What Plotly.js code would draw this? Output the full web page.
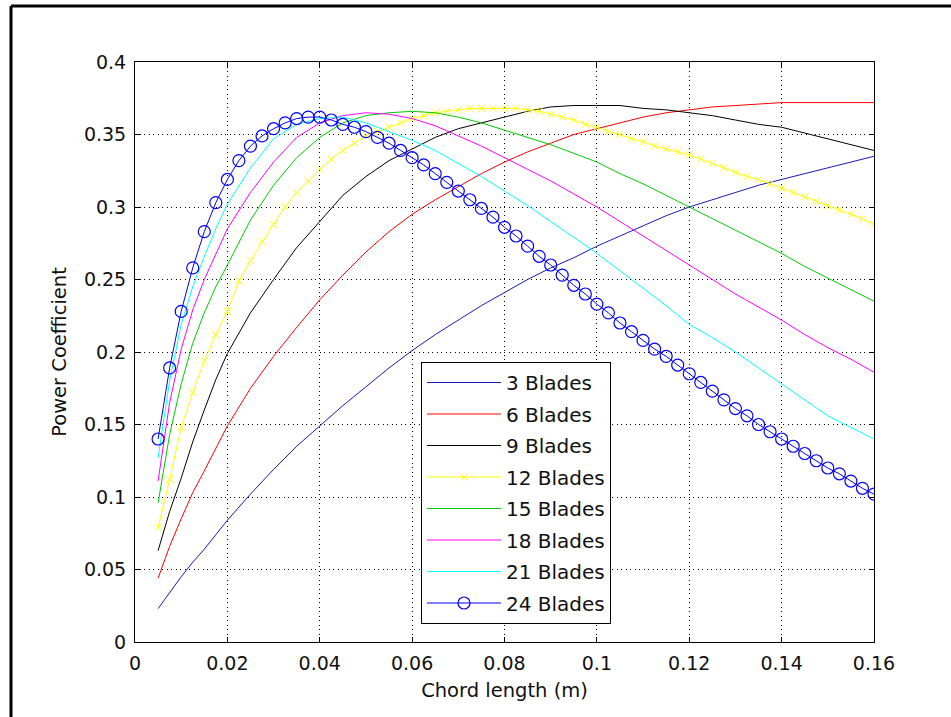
<!DOCTYPE html>
<html><head><meta charset="utf-8">
<script src="https://cdn.plot.ly/plotly-3.0.1.min.js"></script>
<style>html,body{margin:0;padding:0;background:#fff;} #chart{width:951px;height:717px;}</style>
</head><body><div id="chart"></div>
<script>
// Chord lengths (m) for the densely sampled series (12 and 24 blades)
const chordFine = [0.005,0.0075,0.01,0.0125,0.015,0.0175,0.02,0.0225,0.025,0.0275,0.03,0.0325,0.035,0.0375,0.04,0.0425,0.045,0.0475,0.05,0.0525,0.055,0.0575,0.06,0.0625,0.065,0.0675,0.07,0.0725,0.075,0.0775,0.08,0.0825,0.085,0.0875,0.09,0.0925,0.095,0.0975,0.1,0.1025,0.105,0.1075,0.11,0.1125,0.115,0.1175,0.12,0.1225,0.125,0.1275,0.13,0.1325,0.135,0.1375,0.14,0.1425,0.145,0.1475,0.15,0.1525,0.155,0.1575,0.16];
// Chord lengths (m) at which the other series were read
const chordSparse = [0.005,0.0075,0.01,0.0125,0.015,0.0175,0.02,0.025,0.03,0.035,0.04,0.045,0.05,0.055,0.06,0.065,0.07,0.075,0.08,0.085,0.09,0.095,0.1,0.105,0.11,0.115,0.12,0.125,0.13,0.135,0.14,0.145,0.15,0.155,0.16];

const cp3  = [0.023,0.034,0.045,0.055,0.064,0.074,0.084,0.102,0.119,0.135,0.149,0.163,0.176,0.189,0.201,0.212,0.222,0.232,0.241,0.250,0.258,0.265,0.273,0.280,0.287,0.294,0.300,0.305,0.310,0.315,0.319,0.323,0.327,0.331,0.335];
const cp6  = [0.044,0.066,0.085,0.103,0.118,0.134,0.149,0.175,0.197,0.217,0.236,0.253,0.269,0.283,0.295,0.305,0.314,0.323,0.331,0.338,0.344,0.350,0.354,0.358,0.362,0.365,0.367,0.369,0.370,0.371,0.372,0.372,0.372,0.372,0.372];
const cp9  = [0.063,0.090,0.113,0.138,0.160,0.181,0.199,0.227,0.250,0.272,0.290,0.308,0.321,0.332,0.340,0.348,0.354,0.358,0.362,0.366,0.369,0.370,0.370,0.370,0.368,0.367,0.365,0.363,0.360,0.357,0.355,0.351,0.347,0.343,0.339];
const cp12 = [0.079,0.112,0.148,0.172,0.194,0.212,0.228,0.249,0.263,0.276,0.288,0.300,0.310,0.318,0.326,0.333,0.339,0.344,0.349,0.352,0.355,0.358,0.361,0.363,0.365,0.366,0.367,0.368,0.368,0.368,0.368,0.368,0.367,0.366,0.364,0.362,0.360,0.357,0.355,0.352,0.350,0.347,0.345,0.342,0.340,0.338,0.336,0.333,0.330,0.327,0.324,0.321,0.319,0.316,0.313,0.310,0.307,0.304,0.301,0.298,0.295,0.292,0.288];
const cp15 = [0.096,0.143,0.178,0.206,0.227,0.245,0.260,0.291,0.315,0.334,0.348,0.358,0.363,0.365,0.366,0.365,0.362,0.358,0.353,0.348,0.343,0.337,0.331,0.323,0.316,0.308,0.300,0.292,0.284,0.276,0.268,0.259,0.251,0.243,0.235];
const cp18 = [0.111,0.165,0.202,0.229,0.250,0.268,0.285,0.310,0.331,0.348,0.358,0.363,0.365,0.364,0.361,0.356,0.349,0.342,0.334,0.326,0.318,0.309,0.300,0.290,0.280,0.270,0.260,0.250,0.240,0.231,0.222,0.212,0.203,0.195,0.186];
const cp21 = [0.127,0.180,0.219,0.245,0.266,0.285,0.302,0.327,0.347,0.357,0.361,0.362,0.358,0.352,0.346,0.339,0.330,0.321,0.311,0.301,0.290,0.279,0.268,0.256,0.244,0.232,0.219,0.210,0.200,0.189,0.178,0.167,0.156,0.148,0.140];
const cp24 = [0.140,0.189,0.228,0.258,0.283,0.303,0.319,0.332,0.342,0.349,0.354,0.358,0.361,0.362,0.362,0.360,0.357,0.355,0.352,0.348,0.344,0.339,0.334,0.329,0.323,0.317,0.311,0.305,0.299,0.293,0.286,0.280,0.273,0.266,0.260,0.253,0.246,0.240,0.233,0.227,0.220,0.214,0.208,0.202,0.197,0.191,0.185,0.179,0.173,0.167,0.161,0.156,0.150,0.145,0.140,0.135,0.130,0.125,0.120,0.116,0.111,0.106,0.102];

const seriesNames = ['3 Blades','6 Blades','9 Blades','12 Blades','15 Blades','18 Blades','21 Blades','24 Blades'];
const xTickVals = [0,0.02,0.04,0.06,0.08,0.1,0.12,0.14,0.16];
const xTickText = ['0','0.02','0.04','0.06','0.08','0.1','0.12','0.14','0.16'];
const yTickVals = [0,0.05,0.1,0.15,0.2,0.25,0.3,0.35,0.4];
const yTickText = ['0','0.05','0.1','0.15','0.2','0.25','0.3','0.35','0.4'];

const FONT = 'DejaVu Sans, Liberation Sans, Arial, sans-serif';
function line(name, x, y, color, extra) {
  return Object.assign({type:'scatter', mode:'lines', name:name, x:x, y:y, legendgroup:name,
    line:{color:color, width:1}}, extra||{});
}
const traces = [
  line(seriesNames[0], chordSparse, cp3, '#1a1ab8'),
  line(seriesNames[1], chordSparse, cp6, '#ff0000'),
  line(seriesNames[2], chordSparse, cp9, '#000000'),
  line(seriesNames[3], chordFine, cp12, '#ffff00', {mode:'lines+markers', marker:{symbol:'x-thin-open', size:7, color:'#ffff00', line:{color:'#ffff00', width:1}}}),
  line(seriesNames[4], chordSparse, cp15, '#00cc00'),
  line(seriesNames[5], chordSparse, cp18, '#ff00ff'),
  line(seriesNames[6], chordSparse, cp21, '#00ffff'),
  line(seriesNames[7], chordFine, cp24, '#0000ff', {mode:'lines+markers', marker:{symbol:'circle-open', size:12, color:'#0000ff', line:{color:'#0000ff', width:1.2}}})
];

const pl = 135, pr = 874, pt = 62, pb = 642;
const px = v => (v - pl) / (pr - pl);
const py = v => (pb - v) / (pb - pt);

const axisCommon = {
  showline:true, linecolor:'#000', linewidth:1, mirror:'ticks',
  ticks:'inside', ticklen:5, tickcolor:'#000', tickwidth:1,
  showgrid:true, gridcolor:'#000', gridwidth:1, griddash:'1px,3.5px',
  zeroline:false, tickfont:{family:FONT, size:19, color:'#111'}, tickmode:'array'
};
const layout = {
  width:951, height:717,
  margin:{l:pl, r:951-pr, t:pt, b:717-pb, pad:0},
  paper_bgcolor:'#fff', plot_bgcolor:'#fff',
  showlegend:true,
  xaxis:Object.assign({}, axisCommon, {range:[0,0.16], tickvals:xTickVals, ticktext:xTickText,
    ticklabelstandoff:4,
    title:{text:'Chord length (m)', font:{family:FONT, size:19.5, color:'#111'}, standoff:10}}),
  yaxis:Object.assign({}, axisCommon, {range:[0,0.4], tickvals:yTickVals, ticktext:yTickText,
    ticklabelstandoff:4,
    title:{text:'Power Coefficient', font:{family:FONT, size:19.5, color:'#111'}, standoff:12}}),
  legend:{x:px(421), y:py(362), xanchor:'left', yanchor:'top', bgcolor:'#fff',
    bordercolor:'#000', borderwidth:1, font:{family:FONT, size:20, color:'#111'},
    traceorder:'grouped', tracegroupgap:2.5, itemwidth:74,
    entrywidth:190, entrywidthmode:'pixels'},
  shapes:[
    {type:'line', xref:'paper', yref:'paper', x0:px(11), x1:px(951), y0:py(6), y1:py(6), line:{color:'#000', width:3}},
    {type:'line', xref:'paper', yref:'paper', x0:px(11), x1:px(11), y0:py(6), y1:py(717), line:{color:'#000', width:3}}
  ]
};
Plotly.newPlot('chart', traces, layout, {displayModeBar:false, staticPlot:true});
</script></body></html>
